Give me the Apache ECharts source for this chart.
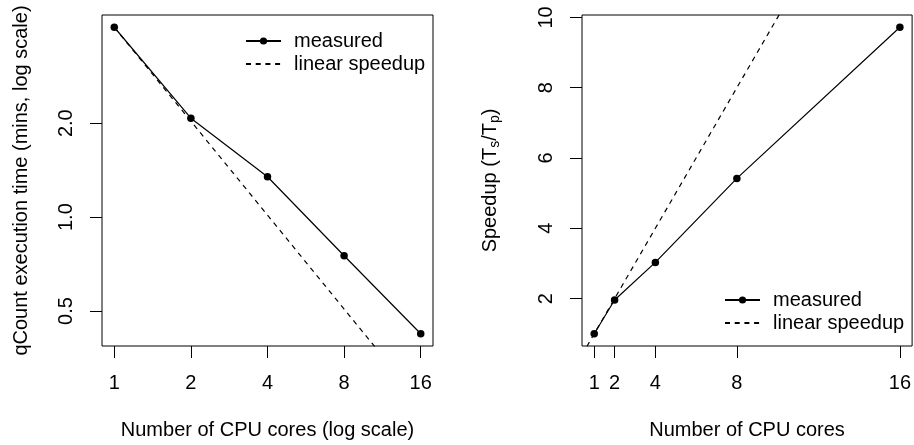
<!DOCTYPE html>
<html>
<head>
<meta charset="utf-8">
<script src="https://cdn.jsdelivr.net/npm/echarts@6/dist/echarts.min.js"></script>
<style>html,body{margin:0;padding:0;background:#fff;}#c{width:914px;height:445px;}</style>
</head>
<body>
<div id="c"></div>
<script>
// ---- data ----
const cores = [1, 2, 4, 8, 16];
const execTimeMins = [4.06, 2.075, 1.347, 0.752, 0.423];
const speedup = [1, 1.96, 3.03, 5.42, 9.72];
const leftXTicks = [1, 2, 4, 8, 16];
const leftYTicks = [0.5, 1, 2];
const rightXTicks = [1, 2, 4, 8, 16];
const rightYTicks = [2, 4, 6, 8, 10];
const legendNames = ['measured', 'linear speedup'];

// ---- R-style axis ranges (4% padding) ----
function padLin(a){const lo=Math.min(...a),hi=Math.max(...a),d=(hi-lo)*0.04;return [lo-d,hi+d];}
function padLog(a){const l=a.map(Math.log10);const r=padLin(l);return [Math.pow(10,r[0]),Math.pow(10,r[1])];}
const lx = padLog(cores), ly = padLog(execTimeMins);
const rx = padLin(cores), ry = padLin(speedup);

const FONT = 'Liberation Sans, Arial, Helvetica, sans-serif';
const black = '#000';
const LW = 1.2;
const DASH = [5, 4.7];
const t1 = execTimeMins[0];

function xAxis(idx, type, range, ticks, name, extra){
  return Object.assign({
    gridIndex: idx, type: type, min: range[0], max: range[1],
    name: name, nameLocation: 'middle', nameGap: 74,
    nameTextStyle: {fontSize: 20, color: black, fontFamily: FONT},
    axisLine: {show: false},
    axisTick: {show: true, length: 12, lineStyle: {color: black, width: 1}, customValues: ticks},
    axisLabel: {fontSize: 20, color: black, fontFamily: FONT, margin: 27, customValues: ticks},
    splitLine: {show: false}
  }, extra || {});
}
function yAxis(idx, type, range, ticks, name, fmt, extra){
  return Object.assign({
    gridIndex: idx, type: type, min: range[0], max: range[1],
    name: name, nameLocation: 'middle', nameGap: 70,
    nameTextStyle: {fontSize: 20, color: black, fontFamily: FONT},
    axisLine: {show: false},
    axisTick: {show: true, length: 12, lineStyle: {color: black, width: 1}, customValues: ticks},
    axisLabel: {fontSize: 20, color: black, fontFamily: FONT, margin: 26, rotate: 90,
                customValues: ticks, formatter: fmt},
    splitLine: {show: false}
  }, extra || {});
}

function legendData(){
  return [
    {name: legendNames[0]},
    {name: legendNames[1], itemStyle: {color: 'rgba(0,0,0,0)', borderWidth: 0, opacity: 0}}
  ];
}
function legend(left, top){
  return {left: left, top: top, orient: 'vertical', itemWidth: 35, itemHeight: 9, itemGap: 3,
    data: legendData(), selectedMode: false,
    textStyle: {fontSize: 20, color: black, fontFamily: FONT, padding: [0, 0, 0, 8]}};
}

const chart = echarts.init(document.getElementById('c'), null, {renderer: 'canvas'});
const option = {
  animation: false,
  backgroundColor: '#fff',
  textStyle: {fontFamily: FONT},
  grid: [
    {left: 102, top: 15, width: 331, height: 331, show: true, borderColor: black, borderWidth: 1, backgroundColor: 'transparent'},
    {left: 582, top: 15, width: 331, height: 331, show: true, borderColor: black, borderWidth: 1, backgroundColor: 'transparent'}
  ],
  xAxis: [
    xAxis(0, 'log', lx, leftXTicks, 'Number of CPU cores (log scale)', {logBase: 2}),
    xAxis(1, 'value', rx, rightXTicks, 'Number of CPU cores')
  ],
  yAxis: [
    yAxis(0, 'log', ly, leftYTicks, 'qCount execution time (mins, log scale)', v => Number(v).toFixed(1), {logBase: 10, nameGap: 71}),
    yAxis(1, 'value', ry, rightYTicks, 'Speedup (T{sub|s}/T{sub|p})', v => String(v), {
      nameGap: 80,
      nameTextStyle: {fontSize: 20, color: black, fontFamily: FONT,
        rich: {sub: {fontSize: 14, color: black, fontFamily: FONT, verticalAlign: 'bottom', padding: [10, 0, 0, 0]}}}
    })
  ],
  legend: [legend(240, 26), legend(719, 285)],
  series: [
    {name: 'measured', type: 'line', xAxisIndex: 0, yAxisIndex: 0,
     data: cores.map((c, i) => [c, execTimeMins[i]]),
     symbol: 'circle', symbolSize: 7.5, showAllSymbol: true,
     itemStyle: {color: black}, lineStyle: {color: black, width: LW}},
    {name: 'linear speedup', type: 'line', xAxisIndex: 0, yAxisIndex: 0,
     data: cores.map(c => [c, t1 / c]),
     symbol: 'none', itemStyle: {color: black}, lineStyle: {color: black, width: LW, type: DASH}},
    {name: 'measured', type: 'line', xAxisIndex: 1, yAxisIndex: 1,
     data: cores.map((c, i) => [c, speedup[i]]),
     symbol: 'circle', symbolSize: 7.5, showAllSymbol: true,
     itemStyle: {color: black}, lineStyle: {color: black, width: LW}},
    {name: 'linear speedup', type: 'line', xAxisIndex: 1, yAxisIndex: 1,
     data: [rx[0]].concat(cores).map(c => [c, c]),
     symbol: 'none', itemStyle: {color: black}, lineStyle: {color: black, width: LW, type: DASH}}
  ]
};
chart.setOption(option);
</script>
</body>
</html>
